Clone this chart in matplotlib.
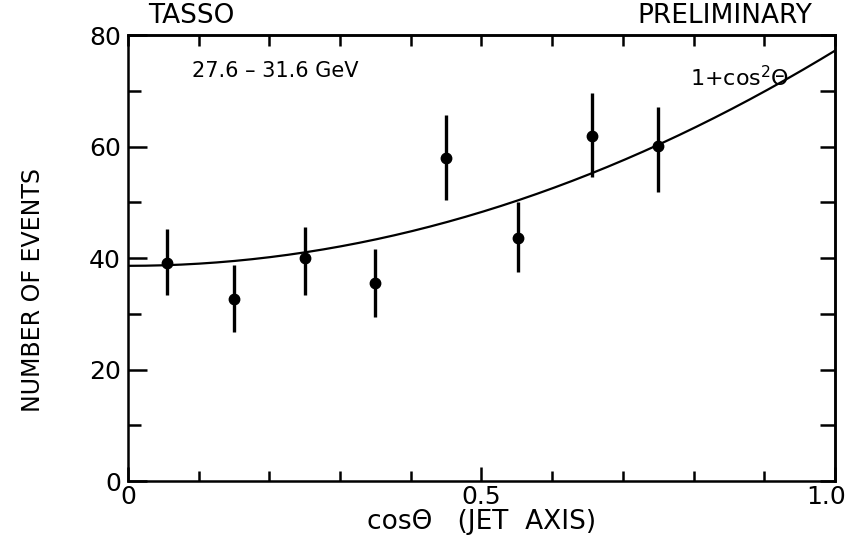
import numpy as np
import matplotlib
matplotlib.use("Agg")
import matplotlib.pyplot as plt
from matplotlib.ticker import MultipleLocator, FixedLocator
from matplotlib.transforms import ScaledTranslation

# measured bins (cos theta of jet axis)
cos_theta = [0.055, 0.15, 0.25, 0.35, 0.45, 0.552, 0.656, 0.75]
n_events = [39.1, 32.6, 40.0, 35.5, 57.9, 43.6, 61.9, 60.1]
err_low = [5.7, 5.9, 6.6, 6.1, 7.5, 6.1, 7.4, 8.3]
err_high = [6.1, 6.1, 5.6, 6.1, 7.7, 6.4, 7.7, 7.0]

# normalisation of the 1 + cos^2 theta curve
norm = 38.6

plt.rcParams['font.family'] = ['DejaVu Sans']

fig = plt.figure(figsize=(8.56, 5.39), dpi=100)
ax = fig.add_axes([0.1495, 0.1076, 0.826, 0.8274])

# fit curve
xc = np.linspace(0, 1, 200)
ax.plot(xc, norm * (1 + xc ** 2), color='black', lw=1.6)

# data with errors
ax.errorbar(cos_theta, n_events, yerr=[err_low, err_high], fmt='o',
            color='black', ms=7.5, elinewidth=2.4, capsize=0)

ax.set_xlim(0, 1.0)
ax.set_ylim(0, 80)

for s in ax.spines.values():
    s.set_linewidth(1.8)

# bottom / left ticks
ax.xaxis.set_major_locator(FixedLocator([0, 0.5, 1.0]))
ax.xaxis.set_minor_locator(MultipleLocator(0.1))
ax.yaxis.set_major_locator(MultipleLocator(20))
ax.yaxis.set_minor_locator(MultipleLocator(10))
ax.set_xticklabels(['0', '0.5', '1.0'])
ax.tick_params(axis='both', which='major', direction='in', length=14, width=1.8,
               labelsize=18, pad=5)
ax.tick_params(axis='both', which='minor', direction='in', length=9, width=1.8)
ax.tick_params(axis='x', which='major', length=10, pad=3)
ax.tick_params(axis='x', which='minor', length=7)
# the "1.0" label sits a little left of the axis end
last = ax.xaxis.get_major_ticks()[-1].label1
last.set_transform(last.get_transform() + ScaledTranslation(-0.09, 0, fig.dpi_scale_trans))

# top / right ticks
top = ax.secondary_xaxis('top')
top.xaxis.set_major_locator(MultipleLocator(0.1))
top.tick_params(direction='in', length=8, width=1.8, labeltop=False)
top.spines['top'].set_linewidth(1.8)
right = ax.secondary_yaxis('right')
right.yaxis.set_major_locator(MultipleLocator(10))
right.tick_params(direction='in', length=11, width=1.8, labelright=False)
right.spines['right'].set_linewidth(1.8)

ax.set_xlabel('cos\u0398   (JET  AXIS)', fontsize=19, labelpad=0)
ax.set_ylabel('NUMBER OF EVENTS', fontsize=17)
ax.yaxis.set_label_coords(-0.117, 0.428)

fig.text(0.173, 0.970, 'TASSO', fontsize=19, va='center', ha='left')
fig.text(0.949, 0.970, 'PRELIMINARY', fontsize=19, va='center', ha='right')
ax.text(0.09, 0.905, '27.6 \u2013 31.6 GeV', fontsize=15, transform=ax.transAxes)
ax.text(0.795, 0.885, '1+cos$^2$\u0398', fontsize=16, transform=ax.transAxes)

fig.savefig('out.png', dpi=100)
